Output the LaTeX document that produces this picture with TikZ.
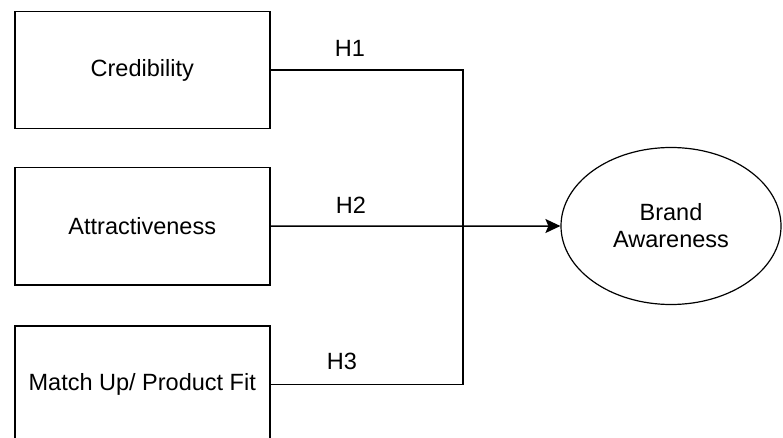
\documentclass[tikz,border=0pt]{standalone}
\usepackage{fontspec}
\setmainfont{Liberation Sans}
\usetikzlibrary{shapes.geometric,arrows.meta}
\begin{document}
\begin{tikzpicture}[x=1pt,y=-1pt,
  every node/.style={font=\fontsize{23.5}{27}\selectfont},
  box/.style={draw, line width=1.5pt, minimum width=255pt, minimum height=117pt, inner sep=0pt, anchor=north west},
  oval/.style={draw, ellipse, line width=1.2pt, minimum width=220pt, minimum height=157pt, inner sep=0pt, align=center},
  conn/.style={line width=1.5pt},
  hlab/.style={inner sep=0pt}
]
\useasboundingbox (0,0) rectangle (783,438);
\node[box] (c1) at (14,11) {Credibility};
\node[box] (c2) at (14,167) {Attractiveness};
\node[box] (c3) at (14,325) {Match Up/ Product Fit};
\node[oval] (ba) at (671,226) {Brand\\Awareness};
\coordinate (j) at (463,226);
\draw[conn] (c1.east) -| (j);
\draw[conn] (c3.east) -| (j);
\draw[conn,-{Stealth[length=15pt,width=14pt,inset=3pt]}] (c2.east) -- (ba.west);
\node[hlab] (h1) at (350,48) {H1};
\node[hlab] (h2) at (351,205) {H2};
\node[hlab] (h3) at (342,361) {H3};
\end{tikzpicture}
\end{document}
